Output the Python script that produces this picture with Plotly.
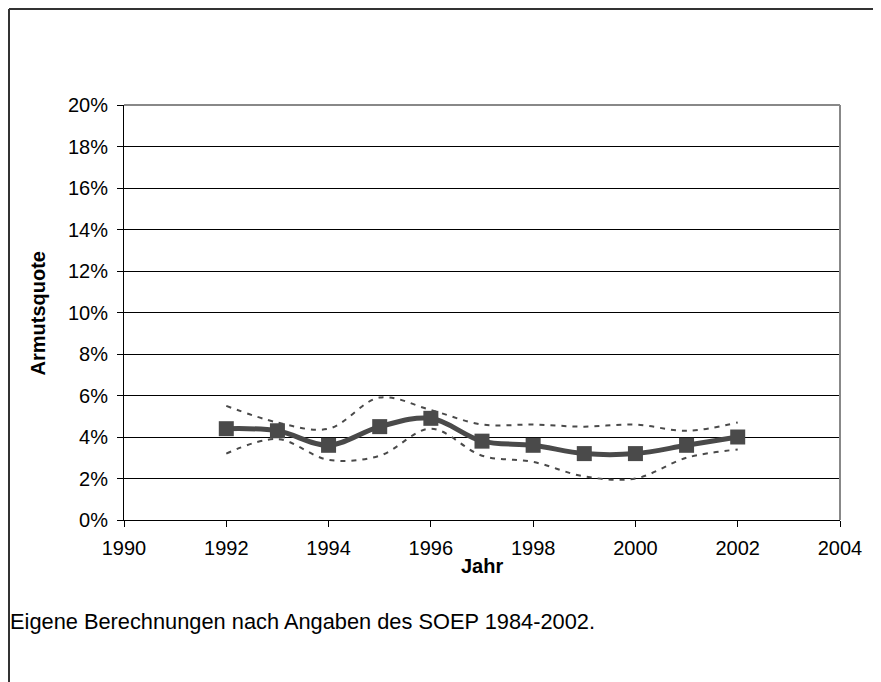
import plotly.graph_objects as go

years = [1992, 1993, 1994, 1995, 1996, 1997, 1998, 1999, 2000, 2001, 2002]
quote = [4.4, 4.3, 3.6, 4.5, 4.9, 3.8, 3.6, 3.2, 3.2, 3.6, 4.0]
upper = [5.5, 4.7, 4.4, 5.9, 5.3, 4.6, 4.6, 4.5, 4.6, 4.3, 4.7]
lower = [3.2, 3.9, 2.9, 3.1, 4.4, 3.1, 2.8, 2.1, 2.0, 3.0, 3.4]
y_ticks = [0, 2, 4, 6, 8, 10, 12, 14, 16, 18, 20]
x_ticks = [1990, 1992, 1994, 1996, 1998, 2000, 2002, 2004]

FONT = "Liberation Sans, Arial, sans-serif"
DARK = "#4a4a4a"
OFF = 8  # page body margin offset

fig = go.Figure()
for band in (upper, lower):
    fig.add_trace(go.Scatter(
        x=years, y=band, mode="lines",
        line=dict(color=DARK, width=2, dash="5px,6px", shape="spline", smoothing=1.0),
        showlegend=False, hoverinfo="skip"))
fig.add_trace(go.Scatter(
    x=years, y=quote, mode="lines+markers",
    line=dict(color=DARK, width=5, shape="spline", smoothing=1.0),
    marker=dict(symbol="square", size=15, color=DARK, line=dict(width=0)),
    showlegend=False))

W, H = 881 - OFF, 682 - OFF
L, T = 124 - OFF, 105 - OFF
R = W - (840 - OFF)
B = H - (520 - OFF)
pw, ph = W - L - R, H - T - B

def px(x):
    return (x - OFF - L) / pw

def py(y):
    return (H - B - (y - OFF)) / ph

fig.update_layout(
    width=W, height=H,
    margin=dict(l=L, r=R, t=T, b=B),
    paper_bgcolor="white", plot_bgcolor="white",
    font=dict(family=FONT, size=20, color="black"),
    xaxis=dict(range=[1990, 2004], tickvals=x_ticks, ticktext=[str(v) for v in x_ticks],
               showgrid=False, zeroline=False, showline=True, linecolor="black", linewidth=1,
               ticks="outside", ticklen=6, tickcolor="black", tickfont=dict(size=20),
               ticklabelstandoff=4),
    yaxis=dict(range=[0, 20], tickvals=y_ticks, ticktext=[f"{v}%" for v in y_ticks],
               showgrid=True, gridcolor="black", gridwidth=1, zeroline=False,
               showline=True, linecolor="black", linewidth=1,
               ticks="outside", ticklen=6, tickcolor="black", tickfont=dict(size=20),
               ticklabelstandoff=5),
    shapes=[
        dict(type="line", xref="paper", yref="paper", x0=0, x1=1, y0=1, y1=1,
             line=dict(color="#888888", width=2)),
        dict(type="line", xref="paper", yref="paper", x0=1, x1=1, y0=0, y1=1,
             line=dict(color="#888888", width=2)),
        dict(type="line", xref="paper", yref="paper", x0=px(OFF + 1), x1=px(900), y0=py(OFF + 1), y1=py(OFF + 1),
             line=dict(color="#333333", width=2)),
        dict(type="line", xref="paper", yref="paper", x0=px(OFF + 1), x1=px(OFF + 1), y0=py(OFF + 1), y1=py(700),
             line=dict(color="#333333", width=2)),
    ],
    annotations=[
        dict(text="<b>Armutsquote</b>", xref="paper", yref="paper", x=px(37.5), y=py(314),
             textangle=-90, showarrow=False, font=dict(size=20), xanchor="center", yanchor="middle"),
        dict(text="<b>Jahr</b>", xref="paper", yref="paper", x=px(482), y=py(566),
             showarrow=False, font=dict(size=20), xanchor="center", yanchor="middle"),
        dict(text="Eigene Berechnungen nach Angaben des SOEP 1984-2002.", xref="paper", yref="paper",
             x=px(8), y=py(621), showarrow=False, font=dict(size=21.8), xanchor="left", yanchor="middle"),
    ],
)

fig.write_html("out.html")
